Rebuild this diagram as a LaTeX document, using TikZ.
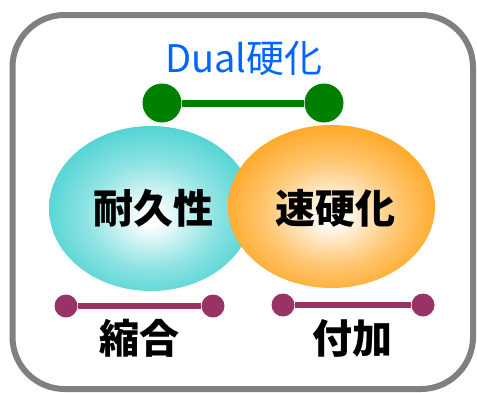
\documentclass[tikz,border=0pt]{standalone}
\usepackage{fontspec}
\setmainfont{Noto Sans CJK JP}
\usetikzlibrary{shapes.geometric}
\definecolor{framegray}{RGB}{128,128,128}
\definecolor{tealc}{RGB}{51,204,204}
\definecolor{orangec}{RGB}{255,153,0}
\definecolor{greenc}{RGB}{0,128,0}
\definecolor{plumc}{RGB}{153,51,102}
\definecolor{bluec}{RGB}{0,102,255}
\pgfdeclareradialshading{tealball}{\pgfpoint{0bp}{-3bp}}{color(0bp)=(white); color(2bp)=(white); color(16bp)=(tealc!55!white); color(32bp)=(tealc); color(50bp)=(tealc)}
\pgfdeclareradialshading{orangeball}{\pgfpoint{0bp}{-3bp}}{color(0bp)=(white); color(2bp)=(white); color(16bp)=(orangec!55!white); color(32bp)=(orangec); color(50bp)=(orangec)}
\tikzset{
  ball/.style={ellipse, inner sep=0pt, font=\fontsize{40pt}{40pt}\selectfont\bfseries},
  gdot/.style={circle, fill=greenc, minimum size=39pt, inner sep=0pt},
  pdot/.style={circle, fill=plumc, minimum size=23pt, inner sep=0pt},
  gbar/.style={draw=greenc, line width=7pt},
  pbar/.style={draw=plumc, line width=6pt},
  lbl/.style={inner sep=0pt, font=\fontsize{40pt}{40pt}\selectfont\bfseries},
}
\begin{document}
\begin{tikzpicture}[x=1pt,y=-1pt]
\useasboundingbox (0,0) rectangle (477,392);
\draw[line width=6pt, draw=framegray, rounded corners=52pt] (12.5,15) rectangle (473,389);
\node[ball, shading=tealball, minimum width=204pt, minimum height=165pt] (durable) at (151,208.5) {};
\node[ball, shading=orangeball, minimum width=207pt, minimum height=163pt] (fast) at (331.5,206.5) {};
\node[lbl] (durabletxt) at (153,208) {耐久性};
\node[lbl] (fasttxt) at (335,208) {速硬化};
\node[inner sep=0pt, text=bluec, font=\fontsize{38pt}{38pt}\selectfont] (dual) at (244,58) {Dual硬化};
\node[gdot] (g1) at (162,103) {};
\node[gdot] (g2) at (324,103) {};
\draw[gbar] (g1) -- (g2);
\node[pdot] (p1) at (66,306) {};
\node[pdot] (p2) at (213,306) {};
\draw[pbar] (p1) -- (p2);
\node[pdot] (p3) at (283,305) {};
\node[pdot] (p4) at (423,305) {};
\draw[pbar] (p3) -- (p4);
\node[lbl] (cond) at (139,338) {縮合};
\node[lbl] (add) at (352,338) {付加};
\end{tikzpicture}
\end{document}
